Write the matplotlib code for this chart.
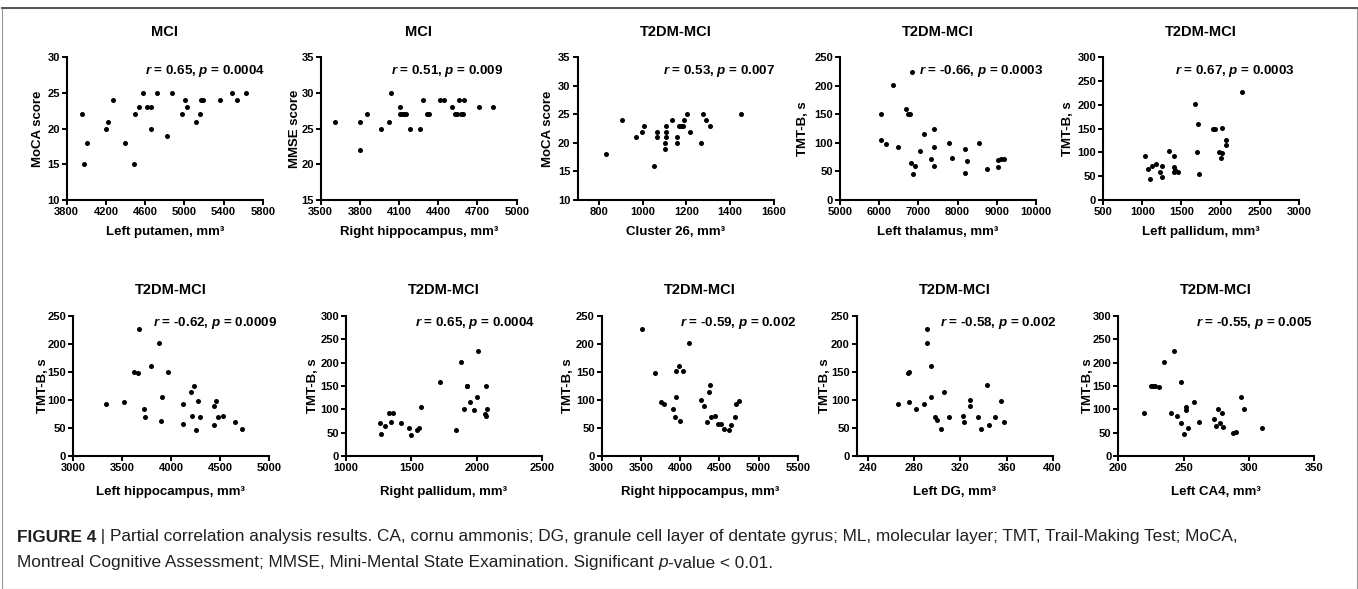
import matplotlib
matplotlib.use("Agg")
import matplotlib.pyplot as plt
from matplotlib import font_manager
from matplotlib.patches import Rectangle

plt.rcParams['font.family'] = ['Liberation Sans', 'DejaVu Sans']
plt.rcParams['mathtext.fontset'] = 'custom'
plt.rcParams['mathtext.it'] = 'Liberation Sans:italic:bold'
plt.rcParams['mathtext.rm'] = 'Liberation Sans:bold'
plt.rcParams['mathtext.bf'] = 'Liberation Sans:bold'

# ---------------- data ----------------
titles = ["MCI", "MCI", "T2DM-MCI", "T2DM-MCI", "T2DM-MCI",
          "T2DM-MCI", "T2DM-MCI", "T2DM-MCI", "T2DM-MCI", "T2DM-MCI"]
ylabels = ["MoCA score", "MMSE score", "MoCA score", "TMT-B, s", "TMT-B, s",
           "TMT-B, s", "TMT-B, s", "TMT-B, s", "TMT-B, s", "TMT-B, s"]
xlabels = ["Left putamen, mm\u00b3", "Right hippocampus, mm\u00b3", "Cluster 26, mm\u00b3",
           "Left thalamus, mm\u00b3", "Left pallidum, mm\u00b3", "Left hippocampus, mm\u00b3",
           "Right pallidum, mm\u00b3", "Right hippocampus, mm\u00b3", "Left DG, mm\u00b3",
           "Left CA4, mm\u00b3"]
r_vals = ["0.65", "0.51", "0.53", "-0.66", "0.67", "-0.62", "0.65", "-0.59", "-0.58", "-0.55"]
p_vals = ["0.0004", "0.009", "0.007", "0.0003", "0.0003", "0.0009", "0.0004", "0.002", "0.002", "0.005"]

x_ticks = [[3800, 4200, 4600, 5000, 5400, 5800],
           [3500, 3800, 4100, 4400, 4700, 5000],
           [800, 1000, 1200, 1400, 1600],
           [5000, 6000, 7000, 8000, 9000, 10000],
           [500, 1000, 1500, 2000, 2500, 3000],
           [3000, 3500, 4000, 4500, 5000],
           [1000, 1500, 2000, 2500],
           [3000, 3500, 4000, 4500, 5000, 5500],
           [240, 280, 320, 360, 400],
           [200, 250, 300, 350]]
x_lims = [(3800, 5800), (3500, 5000), (700, 1600), (5000, 10000), (500, 3000),
          (3000, 5000), (1000, 2500), (3000, 5500), (230, 400), (200, 350)]
y_ticks = [[10, 15, 20, 25, 30],
           [15, 20, 25, 30, 35],
           [10, 15, 20, 25, 30, 35],
           [0, 50, 100, 150, 200, 250],
           [0, 50, 100, 150, 200, 250, 300],
           [0, 50, 100, 150, 200, 250],
           [0, 50, 100, 150, 200, 250, 300],
           [0, 50, 100, 150, 200, 250],
           [0, 50, 100, 150, 200, 250],
           [0, 50, 100, 150, 200, 250, 300]]

# Panel 1: MCI, MoCA vs left putamen
putamen_x = [3960, 4010, 3975, 4196, 4223, 4274, 4400, 4490, 4500, 4540, 4580, 4620, 4656, 4656,
             4717, 4822, 4879, 4981, 5005, 5031, 5120, 5160, 5174, 5191, 5363, 5485, 5533, 5627]
putamen_moca = [22, 18, 15, 20, 21, 24, 18, 15, 22, 23, 25, 23, 23, 20,
                25, 19, 25, 22, 24, 23, 21, 22, 24, 24, 24, 25, 24, 25]
# Panel 2: MCI, MMSE vs right hippocampus
rhip_mci_x = [3613, 3801, 3800, 3851, 3961, 4022, 4039, 4108, 4108, 4125, 4140, 4154, 4180, 4263,
              4286, 4310, 4330, 4413, 4443, 4505, 4530, 4545, 4555, 4572, 4590, 4600, 4708, 4820]
rhip_mci_mmse = [26, 26, 22, 27, 25, 26, 30, 28, 27, 27, 27, 27, 25, 25,
                 29, 27, 27, 29, 29, 28, 27, 27, 29, 27, 27, 29, 28, 28]
# Panel 3: T2DM-MCI, MoCA vs cluster 26
cluster_x = [832, 906, 969, 995, 1007, 1051, 1064, 1064, 1107, 1107, 1105, 1103, 1103, 1133,
             1156, 1156, 1168, 1175, 1184, 1191, 1202, 1217, 1266, 1276, 1291, 1309, 1450]
cluster_moca = [18, 24, 21, 22, 23, 16, 22, 21, 23, 22, 21, 20, 19, 24,
                21, 20, 23, 23, 23, 24, 25, 22, 20, 25, 24, 23, 25]
# Panel 4: TMT-B vs left thalamus
thal_x = [6050, 6058, 6178, 6356, 6476, 6687, 6738, 6780, 6807, 6840, 6852, 6918, 7050, 7137,
          7315, 7400, 7400, 7408, 7790, 7866, 8197, 8240, 8197, 8547, 8746, 9032, 9100, 9190, 9032]
thal_tmt = [150, 105, 98, 202, 93, 160, 150, 150, 65, 225, 46, 59, 85, 115,
            72, 125, 59, 92, 99, 74, 90, 69, 48, 100, 54, 70, 71, 71, 58]
# Panel 5: TMT-B vs left pallidum
lpal_x = [1032, 1075, 1099, 1120, 1176, 1230, 1253, 1253, 1342, 1406, 1400, 1410, 1420, 1463,
          1673, 1706, 1695, 1728, 1907, 1929, 2018, 1982, 2015, 2010, 2069, 2069, 2277]
lpal_tmt = [93, 66, 45, 72, 76, 59, 48, 72, 104, 93, 69, 58, 63, 58,
            202, 160, 101, 55, 150, 150, 151, 101, 98, 88, 126, 116, 226]
# Panel 6: TMT-B vs left hippocampus
lhip_x = [3337, 3523, 3677, 3626, 3666, 3724, 3799, 3878, 3908, 3969, 4125, 4204, 4238, 4276,
          4439, 4462, 3730, 3900, 4120, 4210, 4250, 4300, 4440, 4480, 4530, 4650, 4720]
lhip_tmt = [93, 97, 227, 150, 148, 84, 160, 202, 105, 150, 92, 115, 125, 99,
            89, 99, 70, 63, 58, 72, 47, 70, 55, 70, 72, 60, 48]
# Panel 7: TMT-B vs right pallidum
rpal_x = [2012, 1880, 1722, 1923, 1928, 2069, 2000, 1951, 1900, 1979, 2076, 1331, 1357, 1574,
          1260, 1270, 1300, 1345, 1420, 1480, 1500, 1540, 1560, 1840, 2060, 2070]
rpal_tmt = [226, 202, 159, 150, 150, 150, 126, 116, 100, 98, 100, 93, 93, 104,
            70, 48, 65, 72, 70, 60, 45, 55, 60, 55, 90, 85]
# Panel 8: TMT-B vs right hippocampus
rhip_x = [3510, 4110, 3680, 3944, 3986, 4033, 3756, 3798, 3944, 3913, 4381, 4369, 4267, 4301,
          4713, 4747, 3930, 4000, 4340, 4400, 4450, 4480, 4520, 4560, 4620, 4650, 4700]
rhip_tmt = [227, 202, 149, 151, 160, 151, 97, 93, 105, 84, 126, 115, 100, 89,
            92, 99, 70, 63, 60, 70, 72, 58, 57, 48, 47, 55, 70]
# Panel 9: TMT-B vs left DG
dg_x = [290.7, 290.7, 294.2, 274.2, 275.6, 266.1, 275.6, 281.4, 288.6, 294.7, 305.7, 328.3, 328.3,
        342.7, 355.2, 298, 300, 303, 310, 322, 323, 335, 338, 345, 350, 358]
dg_tmt = [227, 202, 160, 149, 150, 93, 97, 84, 92, 105, 115, 100, 89,
          126, 99, 70, 65, 48, 70, 72, 60, 70, 48, 55, 70, 60]
# Panel 10: TMT-B vs left CA4
ca4_x = [242.9, 235.2, 248, 224.8, 226.8, 228.1, 231.1, 258.2, 252, 252, 219.9, 240.3, 276.5,
         279.1, 293.9, 296.2, 245, 248, 250, 253, 262, 273, 275, 278, 280, 288, 290, 310]
ca4_tmt = [226, 202, 159, 151, 151, 151, 148, 116, 105, 98, 93, 93, 100,
           92, 126, 100, 85, 70, 47, 60, 72, 80, 65, 70, 62, 50, 52, 60]

series_x = [putamen_x, rhip_mci_x, cluster_x, thal_x, lpal_x, lhip_x, rpal_x, rhip_x, dg_x, ca4_x]
series_y = [putamen_moca, rhip_mci_mmse, cluster_moca, thal_tmt, lpal_tmt, lhip_tmt, rpal_tmt,
            rhip_tmt, dg_tmt, ca4_tmt]

# ---------------- layout (pixels) ----------------
W, H = 1358, 589
fig = plt.figure(figsize=(W / 100, H / 100), dpi=100)
fig.patch.set_facecolor('white')

ax_left = [66.7, 320.7, 577.5, 840.0, 1103.0, 73.0, 346.0, 601.7, 856.7, 1118.3]
ax_top = [57.3] * 5 + [316.0] * 5
ax_h = [142.7] * 5 + [140.0] * 5
ax_w = 196.0
ylab_x = [38, 295, 548, 803, 1068, 43, 313, 568, 825, 1088]
ann_right = [265, 503, 775, 1043, 1295, 277.7, 535, 796.7, 1057.3, 1313.3]
ann_y = [71] * 5 + [322.7] * 5
title_y = [32] * 5 + [290] * 5
xlab_y = [232] * 5 + [492] * 5

for i in range(10):
    l, t, h = ax_left[i], ax_top[i], ax_h[i]
    ax = fig.add_axes([l / W, 1 - (t + h) / H, ax_w / W, h / H])
    ax.scatter(series_x[i], series_y[i], s=13, color='black', linewidths=0, zorder=3, clip_on=False)
    ax.set_xlim(*x_lims[i])
    ax.set_ylim(y_ticks[i][0], y_ticks[i][-1])
    ax.set_xticks(x_ticks[i])
    ax.set_yticks(y_ticks[i])
    for s in ['top', 'right']:
        ax.spines[s].set_visible(False)
    for s in ['left', 'bottom']:
        ax.spines[s].set_linewidth(1.5)
    ax.tick_params(axis='both', direction='out', length=3.5, width=1.4, pad=1.5,
                   labelsize=8)
    for lab in ax.get_xticklabels() + ax.get_yticklabels():
        lab.set_fontweight('bold')
    ax.set_xlabel(xlabels[i], fontsize=9.5, fontweight='bold')
    ax.xaxis.set_label_coords(0.5, -(xlab_y[i] - (t + h)) / h)
    ax.xaxis.label.set_va('center')
    ax.set_ylabel(ylabels[i], fontsize=9.5, fontweight='bold')
    ax.yaxis.set_label_coords((ylab_x[i] - l) / ax_w, 0.5)
    ax.yaxis.label.set_va('center')
    fig.text((l + ax_w / 2) / W, 1 - title_y[i] / H, titles[i], ha='center', va='center',
             fontsize=10.5, fontweight='bold')
    fig.text(ann_right[i] / W, 1 - ann_y[i] / H,
             r'$\mathit{r}$ = ' + r_vals[i] + r', $\mathit{p}$ = ' + p_vals[i],
             ha='right', va='center', fontsize=9.6, fontweight='bold')

# frame
fig.patches.append(Rectangle((1.5 / W, 0.5 / H), (W - 3) / W, (H - 8 - 0.5) / H,
                             transform=fig.transFigure, fill=False, edgecolor='#9a9a9a',
                             linewidth=0.8))
fig.add_artist(plt.Line2D([1.5 / W, (W - 1.5) / W], [1 - 8 / H, 1 - 8 / H],
                          transform=fig.transFigure, color='#555555', linewidth=1.4))

# caption
names = {f.name for f in font_manager.fontManager.ttflist}
cap_font = 'Liberation Sans Narrow' if 'Liberation Sans Narrow' in names else 'Liberation Sans'
line1_rest = ("Partial correlation analysis results. CA, cornu ammonis; DG, granule cell layer of "
              "dentate gyrus; ML, molecular layer; TMT, Trail-Making Test; MoCA,")
line2a = "Montreal Cognitive Assessment; MMSE, Mini-Mental State Examination. Significant "
line2b = "p"
line2c = "-value < 0.01."

renderer = fig.canvas.get_renderer()
probe = fig.text(0, 0, "FIGURE 4 | " + line1_rest, fontsize=12, family=cap_font)
pw = probe.get_window_extent(renderer).width
probe.remove()
cap_size = 12 * 1220 / pw
cap_color = '#231f20'

def put(x, y, s, **kw):
    t = fig.text(x / W, 1 - y / H, s, fontsize=cap_size, family=cap_font, color=cap_color,
                 va='center', ha='left', **kw)
    return x + t.get_window_extent(renderer).width

x = 17
x = put(x, 537, "FIGURE 4", fontweight='bold')
x = put(x, 537, " | ")
put(x, 537, line1_rest)
x = 17
x = put(x, 563, line2a)
x = put(x, 563, line2b, style='italic')
put(x, 563, line2c)

fig.savefig("out.png", dpi=100, facecolor='white')
